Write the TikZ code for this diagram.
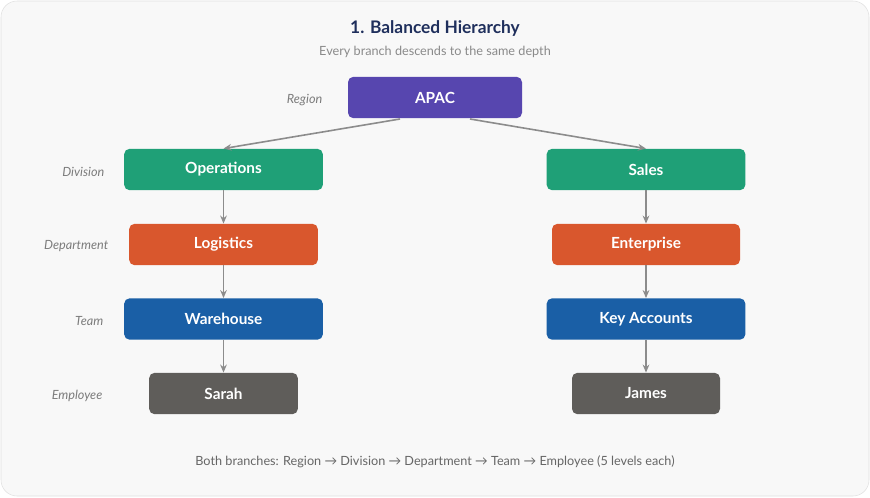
\documentclass[tikz,border=0pt]{standalone}
\usepackage{fontspec}
\setmainfont{Lato}
\usetikzlibrary{arrows.meta}
\definecolor{bg}{HTML}{F8F8F8}
\definecolor{navy}{HTML}{1F2F5C}
\definecolor{sub}{HTML}{8A8A8A}
\definecolor{cpur}{HTML}{5746AF}
\definecolor{cgrn}{HTML}{1FA077}
\definecolor{corg}{HTML}{D9572D}
\definecolor{cblu}{HTML}{1A5FA6}
\definecolor{cgry}{HTML}{5F5D5A}
\definecolor{arr}{HTML}{8C8C8C}
\begin{document}
\begin{tikzpicture}[x=0.75pt,y=-0.75pt,
 box/.style={rounded corners=4pt,minimum height=31pt,text=white,font=\bfseries\fontsize{11.5}{13}\selectfont,inner sep=0pt},
 lvl/.style={anchor=east,text=sub!90!black,font=\itshape\fontsize{9.5}{11}\selectfont},
 con/.style={draw=arr,line width=1.2pt,-{Stealth[length=6pt,width=5pt]}}]
\useasboundingbox (0,0) rectangle (870,497);
\fill[bg,draw=black!12,rounded corners=12pt] (1,1) rectangle (869,496);
\node[text=navy,font=\bfseries\fontsize{13}{15}\selectfont] (title) at (435,29) {1. Balanced Hierarchy};
\node[text=sub,font=\fontsize{9.5}{11}\selectfont] (subt) at (435,52) {Every branch descends to the same depth};
\node[box,fill=cpur,minimum width=130.5pt] (apac) at (435,97.5) {APAC};
\node[box,fill=cgrn,minimum width=149pt] (ops) at (223.5,169.5) {Operations};
\node[box,fill=cgrn,minimum width=149pt] (sales) at (646,169.5) {Sales};
\node[box,fill=corg,minimum width=141.5pt] (log) at (223.5,244.5) {Logistics};
\node[box,fill=corg,minimum width=141pt] (ent) at (646,244.5) {Enterprise};
\node[box,fill=cblu,minimum width=149pt] (wh) at (223.5,319) {Warehouse};
\node[box,fill=cblu,minimum width=149pt] (ka) at (646,319) {Key Accounts};
\node[box,fill=cgry,minimum width=111.5pt] (sarah) at (223.5,393.5) {Sarah};
\node[box,fill=cgry,minimum width=111pt] (james) at (646,393.5) {James};
\node[lvl] (l1) at (327,100) {Region};
\node[lvl] (l2) at (109,172) {Division};
\node[lvl] (l3) at (113,246) {Department};
\node[lvl] (l4) at (108,321) {Team};
\node[lvl] (l5) at (107,396) {Employee};
\coordinate (a1) at (400,119);
\coordinate (a2) at (470,119);
\draw[con] (a1) -- (ops.north);
\draw[con] (a2) -- (sales.north);
\draw[con] (ops) -- (log);
\draw[con] (log) -- (wh);
\draw[con] (wh) -- (sarah);
\draw[con] (sales) -- (ent);
\draw[con] (ent) -- (ka);
\draw[con] (ka) -- (james);
\node[text=black!60,font=\fontsize{9.5}{11}\selectfont] (foot) at (435,462) {Both branches: Region → Division → Department → Team → Employee (5 levels each)};
\end{tikzpicture}
\end{document}
